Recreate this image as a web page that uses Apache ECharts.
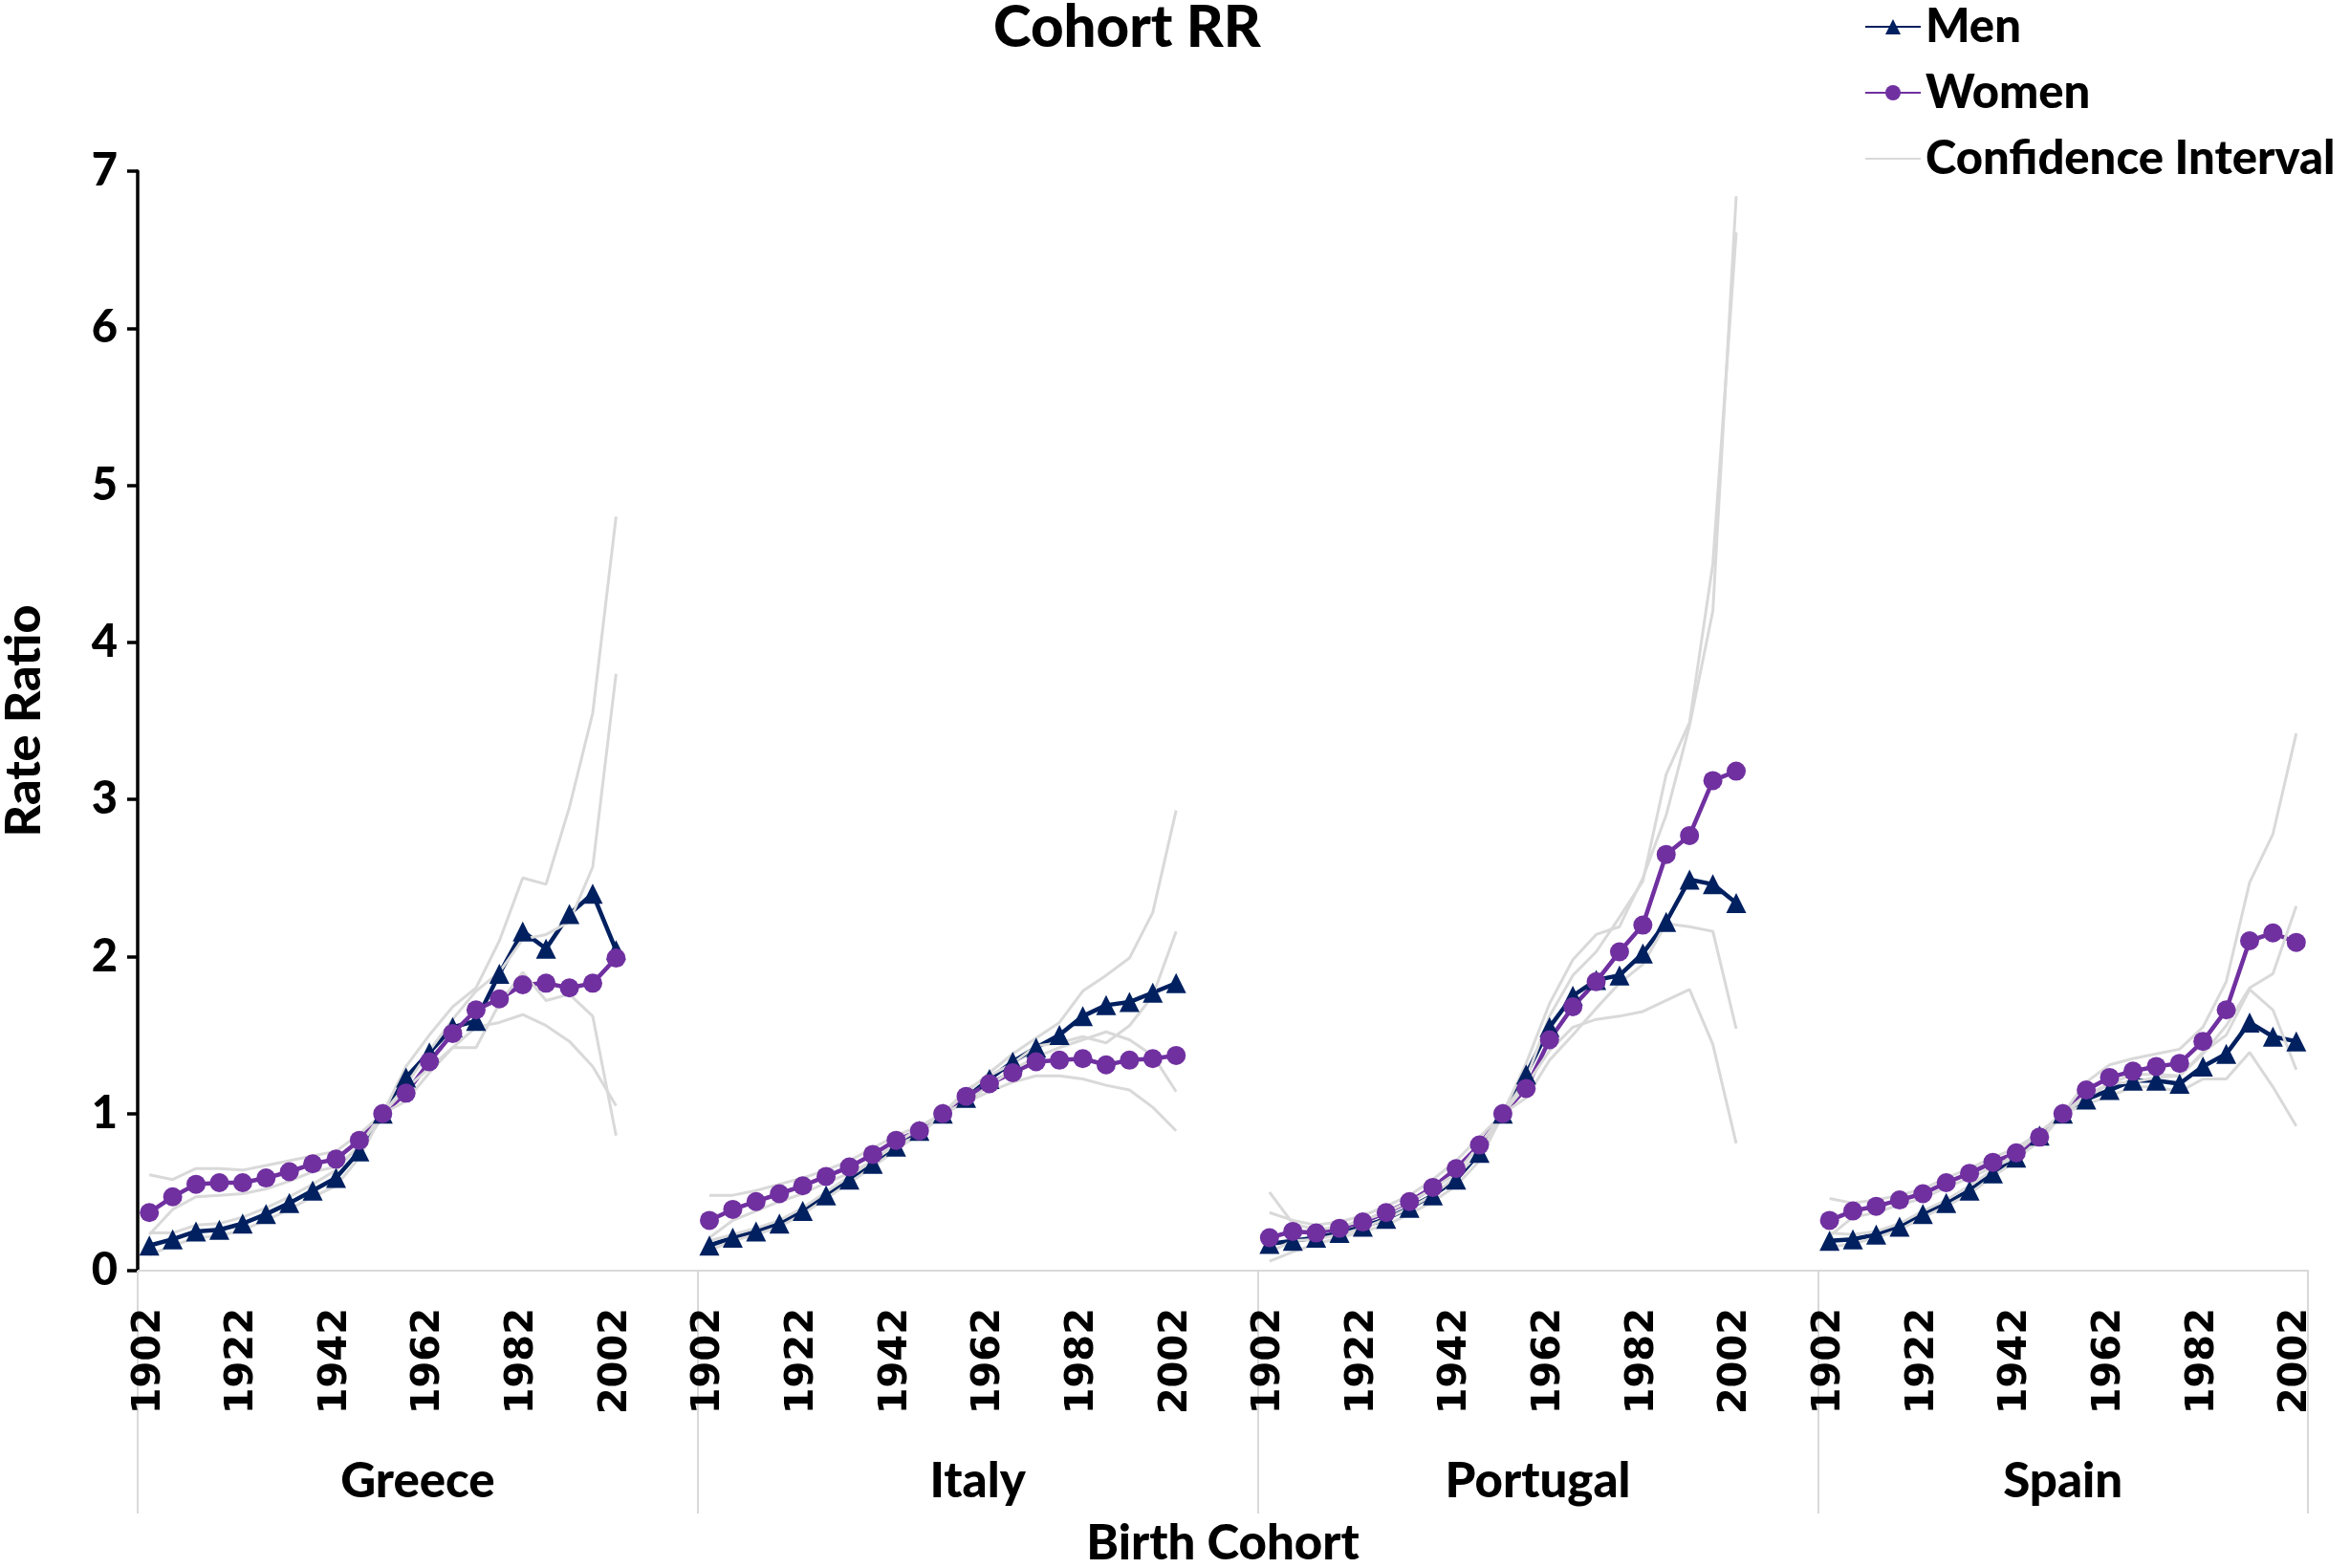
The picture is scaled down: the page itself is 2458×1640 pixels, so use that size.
<!DOCTYPE html>
<html>
<head>
<meta charset="utf-8">
<script src="https://cdn.jsdelivr.net/npm/echarts@6/dist/echarts.min.js"></script>
<style>
html,body{margin:0;padding:0;background:#ffffff;}
#chart{width:2458px;height:1640px;}
</style>
</head>
<body>
<div id="chart"></div>
<script>
// ---------- data ----------
const countries = ['Greece', 'Italy', 'Portugal', 'Spain'];
const cohorts = [1902,1907,1912,1917,1922,1927,1932,1937,1942,1947,1952,1957,1962,1967,1972,1977,1982,1987,1992,1997,2002];
const yTicks = [0,1,2,3,4,5,6,7];

const greeceMen      = [0.16,0.20,0.25,0.26,0.30,0.36,0.43,0.51,0.59,0.76,1.00,1.23,1.39,1.55,1.59,1.89,2.16,2.05,2.27,2.40,2.04];
const greeceWomen    = [0.37,0.47,0.55,0.56,0.56,0.59,0.63,0.68,0.71,0.83,1.00,1.13,1.33,1.51,1.66,1.73,1.82,1.83,1.80,1.83,1.99];
const greeceMenUp    = [0.24,0.24,0.29,0.30,0.34,0.40,0.47,0.55,0.64,0.80,1.00,1.30,1.50,1.68,1.80,2.10,2.50,2.46,2.95,3.55,4.80];
const greeceMenLo    = [0.10,0.16,0.21,0.22,0.26,0.32,0.39,0.47,0.54,0.72,1.00,1.16,1.29,1.42,1.42,1.70,1.90,1.72,1.76,1.62,0.86];
const greeceWomenUp  = [0.61,0.58,0.65,0.65,0.64,0.67,0.70,0.73,0.76,0.87,1.00,1.18,1.40,1.60,1.78,1.90,2.11,2.14,2.22,2.57,3.80];
const greeceWomenLo  = [0.23,0.39,0.47,0.48,0.49,0.52,0.57,0.63,0.66,0.79,1.00,1.08,1.26,1.42,1.55,1.58,1.63,1.56,1.46,1.30,1.05];

const italyMen       = [0.16,0.21,0.25,0.30,0.38,0.48,0.58,0.68,0.79,0.89,1.00,1.10,1.22,1.33,1.42,1.50,1.62,1.69,1.71,1.77,1.83];
const italyWomen     = [0.32,0.39,0.44,0.49,0.54,0.60,0.66,0.74,0.83,0.89,1.00,1.11,1.19,1.26,1.33,1.34,1.35,1.31,1.34,1.35,1.37];
const italyMenUp     = [0.19,0.23,0.27,0.32,0.40,0.50,0.60,0.70,0.81,0.91,1.00,1.13,1.26,1.38,1.48,1.58,1.78,1.88,1.99,2.28,2.93];
const italyMenLo     = [0.13,0.19,0.23,0.28,0.36,0.46,0.56,0.66,0.77,0.87,1.00,1.07,1.18,1.28,1.36,1.42,1.47,1.52,1.47,1.37,1.14];
const italyWomenUp   = [0.48,0.48,0.51,0.55,0.59,0.64,0.70,0.78,0.86,0.92,1.00,1.15,1.24,1.32,1.43,1.45,1.49,1.45,1.56,1.75,2.16];
const italyWomenLo   = [0.21,0.32,0.38,0.44,0.49,0.56,0.62,0.70,0.80,0.86,1.00,1.07,1.14,1.20,1.24,1.24,1.22,1.18,1.15,1.04,0.89];

const portugalMen     = [0.17,0.19,0.21,0.24,0.28,0.33,0.40,0.48,0.58,0.75,1.00,1.25,1.55,1.75,1.85,1.88,2.02,2.22,2.49,2.46,2.34];
const portugalWomen   = [0.21,0.25,0.24,0.27,0.31,0.37,0.44,0.53,0.65,0.80,1.00,1.16,1.47,1.68,1.84,2.03,2.20,2.65,2.77,3.12,3.18];
const portugalMenUp   = [0.50,0.30,0.26,0.28,0.32,0.37,0.44,0.52,0.62,0.80,1.00,1.32,1.70,1.98,2.14,2.19,2.50,2.90,3.47,4.20,6.84];
const portugalMenLo   = [0.06,0.12,0.17,0.21,0.25,0.29,0.36,0.44,0.54,0.70,1.00,1.18,1.40,1.55,1.60,1.62,1.65,1.72,1.79,1.44,0.81];
const portugalWomenUp = [0.37,0.32,0.29,0.31,0.35,0.41,0.48,0.58,0.70,0.85,1.00,1.22,1.62,1.88,2.03,2.25,2.48,3.16,3.49,4.50,6.61];
const portugalWomenLo = [0.12,0.19,0.20,0.23,0.27,0.33,0.40,0.48,0.60,0.75,1.00,1.10,1.34,1.50,1.67,1.83,1.95,2.21,2.19,2.16,1.54];

const spainMen       = [0.19,0.20,0.23,0.28,0.36,0.43,0.51,0.62,0.72,0.86,1.00,1.09,1.15,1.21,1.21,1.19,1.30,1.38,1.58,1.49,1.46];
const spainWomen     = [0.32,0.38,0.41,0.45,0.49,0.56,0.62,0.69,0.75,0.85,1.00,1.15,1.23,1.27,1.30,1.32,1.46,1.66,2.10,2.15,2.09];
const spainMenUp     = [0.24,0.23,0.25,0.30,0.38,0.45,0.54,0.64,0.75,0.88,1.00,1.12,1.19,1.25,1.25,1.24,1.38,1.56,1.80,1.89,2.32];
const spainMenLo     = [0.15,0.17,0.21,0.26,0.34,0.41,0.49,0.60,0.70,0.84,1.00,1.06,1.11,1.17,1.17,1.14,1.22,1.22,1.39,1.17,0.92];
const spainWomenUp   = [0.46,0.43,0.45,0.48,0.52,0.59,0.65,0.72,0.78,0.88,1.00,1.20,1.31,1.35,1.38,1.41,1.55,1.84,2.47,2.78,3.42];
const spainWomenLo   = [0.22,0.34,0.37,0.42,0.46,0.53,0.59,0.66,0.72,0.82,1.00,1.10,1.19,1.20,1.23,1.24,1.39,1.50,1.79,1.66,1.28];

// ---------- assembly ----------
const GAP = 3; // blank cohorts between country groups
function joinGroups(arrs) {
  const out = [];
  arrs.forEach((a, k) => {
    a.forEach(v => out.push(v));
    if (k < arrs.length - 1) for (let j = 0; j < GAP; j++) out.push(null);
  });
  return out;
}
const categories = joinGroups(countries.map(() => cohorts.map(String))).map(v => v === null ? '' : v);

const groupStart = [], groupEnd = [];
{
  let pos = 0;
  countries.forEach((c, k) => {
    groupStart.push(pos);
    pos += cohorts.length + (k < countries.length - 1 ? GAP : 0);
    groupEnd.push(pos);
  });
}
// half-step boundary axis (points at every half band of the main axis)
const halfCats = new Array(2 * categories.length + 1).fill('');
const dividerIdx = new Set();
const labelIdx = new Set();
countries.forEach((c, k) => {
  dividerIdx.add(2 * groupStart[k]);
  dividerIdx.add(2 * groupEnd[k]);
  const mid = groupStart[k] + groupEnd[k];
  labelIdx.add(mid);
  halfCats[mid] = c;
});

const menData   = joinGroups([greeceMen, italyMen, portugalMen, spainMen]);
const womenData = joinGroups([greeceWomen, italyWomen, portugalWomen, spainWomen]);
const ciSets = [
  joinGroups([greeceMenUp, italyMenUp, portugalMenUp, spainMenUp]),
  joinGroups([greeceMenLo, italyMenLo, portugalMenLo, spainMenLo]),
  joinGroups([greeceWomenUp, italyWomenUp, portugalWomenUp, spainWomenUp]),
  joinGroups([greeceWomenLo, italyWomenLo, portugalWomenLo, spainWomenLo])
];

const FONT = 'Lato';
const W = 900;
const NAVY = '#002060', PURPLE = '#7030A0', GREY = '#D9D9D9';

const series = [
  { name: 'Men', type: 'line', data: menData, color: NAVY,
    symbol: 'triangle', symbolSize: 21, showAllSymbol: true,
    lineStyle: { width: 4.5, color: NAVY }, itemStyle: { color: NAVY } },
  { name: 'Women', type: 'line', data: womenData, color: PURPLE,
    symbol: 'circle', symbolSize: 20, showAllSymbol: true,
    lineStyle: { width: 4.5, color: PURPLE }, itemStyle: { color: PURPLE } }
];
ciSets.forEach(d => series.push({
  name: 'Confidence Interval', type: 'line', data: d, color: GREY,
  symbol: 'none', lineStyle: { width: 3, color: GREY }, itemStyle: { color: GREY }
}));

const chart = echarts.init(document.getElementById('chart'), null, { renderer: 'canvas' });
chart.setOption({
  animation: false,
  backgroundColor: '#ffffff',
  title: {
    text: 'Cohort RR', left: 1034, top: -5,
    textStyle: { fontFamily: FONT, fontWeight: W, fontSize: 60, color: '#000' }
  },
  legend: {
    orient: 'vertical', left: 1945, top: -2,
    data: ['Men', 'Women', { name: 'Confidence Interval', itemStyle: { opacity: 0 } }],
    itemWidth: 58, itemHeight: 20, itemGap: 19,
    textStyle: { fontFamily: FONT, fontWeight: W, fontSize: 49, color: '#000', lineHeight: 50 }
  },
  grid: { left: 144, right: 44, top: 179, bottom: 311, containLabel: false, outerBoundsMode: 'none' },
  xAxis: [
    {
      type: 'category', data: categories, boundaryGap: true,
      name: 'Birth Cohort', nameLocation: 'middle', nameGap: 260,
      nameTextStyle: { fontFamily: FONT, fontWeight: W, fontSize: 51, color: '#000' },
      axisLine: { show: true, lineStyle: { color: GREY, width: 2 } },
      axisTick: { show: false },
      axisLabel: {
        interval: 3, rotate: 90, margin: 39,
        fontFamily: 'DejaVu Sans', fontWeight: 'bold', fontSize: 40, color: '#000'
      },
      splitLine: { show: false }
    },
    {
      type: 'category', data: halfCats, boundaryGap: false, position: 'bottom', gridIndex: 0,
      axisLine: { show: false },
      axisTick: { show: true, interval: (i) => dividerIdx.has(i), length: 254, inside: false,
                  lineStyle: { color: GREY, width: 2 } },
      axisLabel: { show: true, interval: (i) => labelIdx.has(i), margin: 195,
                   fontFamily: FONT, fontWeight: W, fontSize: 51, color: '#000' },
      splitLine: { show: false }
    }
  ],
  yAxis: {
    type: 'value', min: yTicks[0], max: yTicks[yTicks.length - 1], interval: 1,
    name: 'Rate Ratio', nameLocation: 'middle', nameGap: 93,
    nameTextStyle: { fontFamily: FONT, fontWeight: W, fontSize: 52, color: '#000' },
    axisLine: { show: true, lineStyle: { color: '#000', width: 3.5 } },
    axisTick: { show: true, length: 11, lineStyle: { color: '#000', width: 3.5 } },
    axisLabel: { margin: 21, fontFamily: FONT, fontWeight: W, fontSize: 47, color: '#000' },
    splitLine: { show: false }
  },
  series: series
});
</script>
</body>
</html>
